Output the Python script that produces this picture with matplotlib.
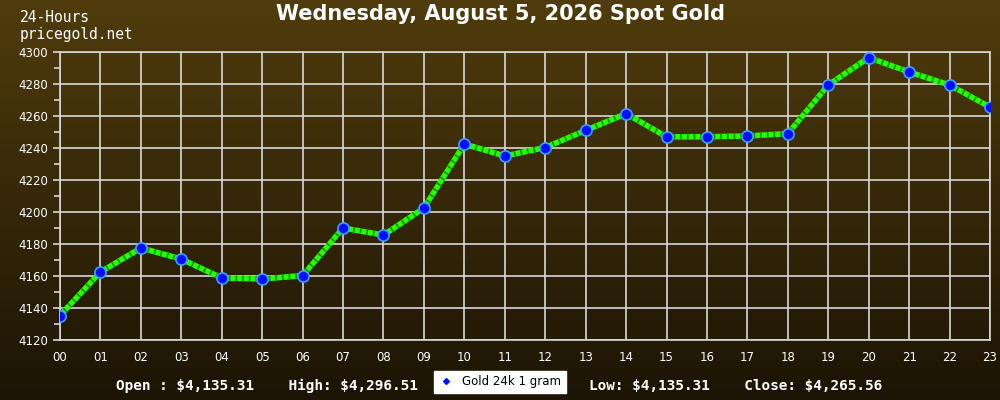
import numpy as np
import matplotlib.pyplot as plt

hours = ['00', '01', '02', '03', '04', '05', '06', '07', '08', '09', '10', '11',
         '12', '13', '14', '15', '16', '17', '18', '19', '20', '21', '22', '23']
prices = [4135.31, 4162.5, 4177.5, 4170.6, 4158.8, 4158.1, 4160.3, 4190.0,
          4185.6, 4202.5, 4242.5, 4235.0, 4240.3, 4251.0, 4261.5, 4247.0,
          4247.0, 4247.5, 4249.0, 4279.4, 4296.51, 4287.5, 4279.4, 4265.56]
title = 'Wednesday, August 5, 2026 Spot Gold'
summary_left = 'Open : $4,135.31    High: $4,296.51'
summary_right = 'Low: $4,135.31    Close: $4,265.56'
legend_label = 'Gold 24k 1 gram'

plt.rcParams['text.parse_math'] = False

fig = plt.figure(figsize=(10, 4), dpi=100)

# gradient background
bg = fig.add_axes([0, 0, 1, 1])
grad = np.linspace(0, 1, 256).reshape(-1, 1)
top = np.array([0x50, 0x3c, 0x0c]) / 255.0
bot = np.array([0x1c, 0x14, 0x05]) / 255.0
img = top * (1 - grad[..., None]) + bot * grad[..., None]
bg.imshow(img, aspect='auto', extent=[0, 1, 0, 1])
bg.set_axis_off()

ax = fig.add_axes([0.06, 0.15, 0.93, 0.72])
ax.patch.set_alpha(0)
x = np.arange(len(hours))
ax.plot(x, prices, color='#22ff00', lw=4, zorder=3, solid_capstyle='butt')
ax.plot(x, prices, color='#1a9000', lw=4, zorder=3, dashes=(0.3, 0.9))
ax.plot(x, prices, ls='none', marker='o', ms=8, mfc='#0010ff', mec='#40a0ff',
        mew=1.2, zorder=4)

ax.set_xlim(0, 23)
ax.set_ylim(4120, 4300)
ax.set_xticks(x)
ax.set_xticklabels(hours)
ax.set_yticks(np.arange(4120, 4301, 20))
ax.set_yticks(np.arange(4130, 4300, 20), minor=True)
ax.grid(True, color='#d8d8d8', lw=1.2)
for s in ax.spines.values():
    s.set_color('#d8d8d8')
    s.set_linewidth(1.2)
ax.tick_params(axis='y', colors='#ffffff', labelsize=8.5, length=5,
               width=1.2, which='both')
ax.tick_params(axis='y', which='minor', length=4, color='#d8d8d8')
ax.tick_params(axis='x', colors='#ffffff', labelsize=8.5, length=0, pad=8)
ax.tick_params(axis='y', color='#d8d8d8')

fig.text(0.5, 0.965, title, ha='center', va='center', color='white',
         fontsize=15, fontweight='bold')
fig.text(0.02, 0.955, '24-Hours', ha='left', va='center', color='white',
         fontsize=10.5, family='DejaVu Sans Mono')
fig.text(0.02, 0.915, 'pricegold.net', ha='left', va='center', color='white',
         fontsize=10.5, family='DejaVu Sans Mono')
fig.text(0.418, 0.035, summary_left, ha='right', va='center', color='white',
         fontsize=10.4, family='DejaVu Sans Mono', fontweight='bold')
fig.text(0.589, 0.035, summary_right, ha='left', va='center', color='white',
         fontsize=10.4, family='DejaVu Sans Mono', fontweight='bold')

h, = ax.plot([], [], ls='none', marker='D', ms=3, mfc='#0010ff', mec='#0010ff')
leg = fig.legend([h], [legend_label], loc='center', bbox_to_anchor=(0.5, 0.045),
                 frameon=True, fancybox=False, framealpha=1, fontsize=8.5,
                 handlelength=1.2, borderpad=0.4, edgecolor='white')

fig.savefig('out.png', dpi=100)
